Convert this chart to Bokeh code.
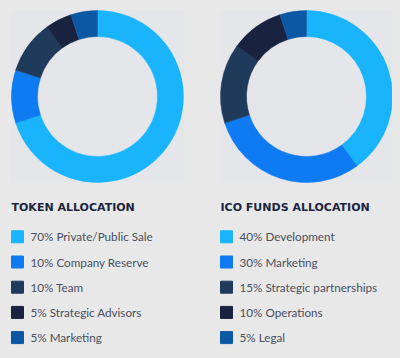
import math
from bokeh.plotting import figure
from bokeh.models import Range1d, ColumnDataSource
from bokeh.core.properties import value
from bokeh.embed import file_html
from bokeh.resources import INLINE

token_title = "TOKEN ALLOCATION"
token_labels = ["Private/Public Sale", "Company Reserve", "Team", "Strategic Advisors", "Marketing"]
token_values = [70, 10, 10, 5, 5]

ico_title = "ICO FUNDS ALLOCATION"
ico_labels = ["Development", "Marketing", "Strategic partnerships", "Operations", "Legal"]
ico_values = [40, 30, 15, 10, 5]

colors = ["#19b4fc", "#0f7bf2", "#1f3a5a", "#19233f", "#0d58a5"]

BG = "#e8e8e8"
H = 358  # image height, used to map top-down pixel positions

p = figure(width=392, height=350, output_backend="svg", toolbar_location=None,
           x_range=Range1d(0, 392), y_range=Range1d(8, 358), min_border=0)
p.axis.visible = False
p.grid.visible = False
p.outline_line_color = None
p.background_fill_color = BG
p.border_fill_color = BG


def donut(cx, cy, values, labels, title, lx):
    Y = H - cy
    # faint panel behind the donut
    p.rect(x=[cx], y=[Y], width=173, height=173, fill_color="#e5e6ea", line_color=None)
    total = float(sum(values))
    starts, ends = [], []
    cum = 0.0
    for v in values:
        starts.append(math.pi / 2 - 2 * math.pi * cum / total)
        cum += v
        ends.append(math.pi / 2 - 2 * math.pi * cum / total)
    src = ColumnDataSource(dict(start=starts, end=ends, color=colors[:len(values)]))
    p.annular_wedge(x=cx, y=Y, inner_radius=60, outer_radius=86,
                    start_angle="start", end_angle="end", direction="clock",
                    fill_color="color", line_color="color", line_width=0.5, source=src)
    # title
    p.text(x=[lx], y=[H - 207], text=[title], text_font=value("DejaVu Sans"),
           text_font_size="11px", text_font_style="bold", text_color="#1c2540",
           text_baseline="middle", text_align="left")
    ys = [H - (236.3 + 25.2 * i) for i in range(len(values))]
    p.rect(x=[lx + 6] * len(values), y=ys, width=12, height=12,
           fill_color=colors[:len(values)], line_color=colors[:len(values)])
    texts = [f"{v}% {l}" for v, l in zip(values, labels)]
    p.text(x=[lx + 19] * len(values), y=[y + 0.5 for y in ys], text=texts,
           text_font=value("Lato"), text_font_size="11.7px", text_color="#4a4f5e",
           text_baseline="middle", text_align="left")


donut(97, 96, token_values, token_labels, token_title, 11)
donut(306, 96, ico_values, ico_labels, ico_title, 220)

html = file_html(p, INLINE)
html = html.replace("<head>", "<head><style>body{background:#e8e8e8;}</style>", 1)
open("out.html", "w").write(html)
